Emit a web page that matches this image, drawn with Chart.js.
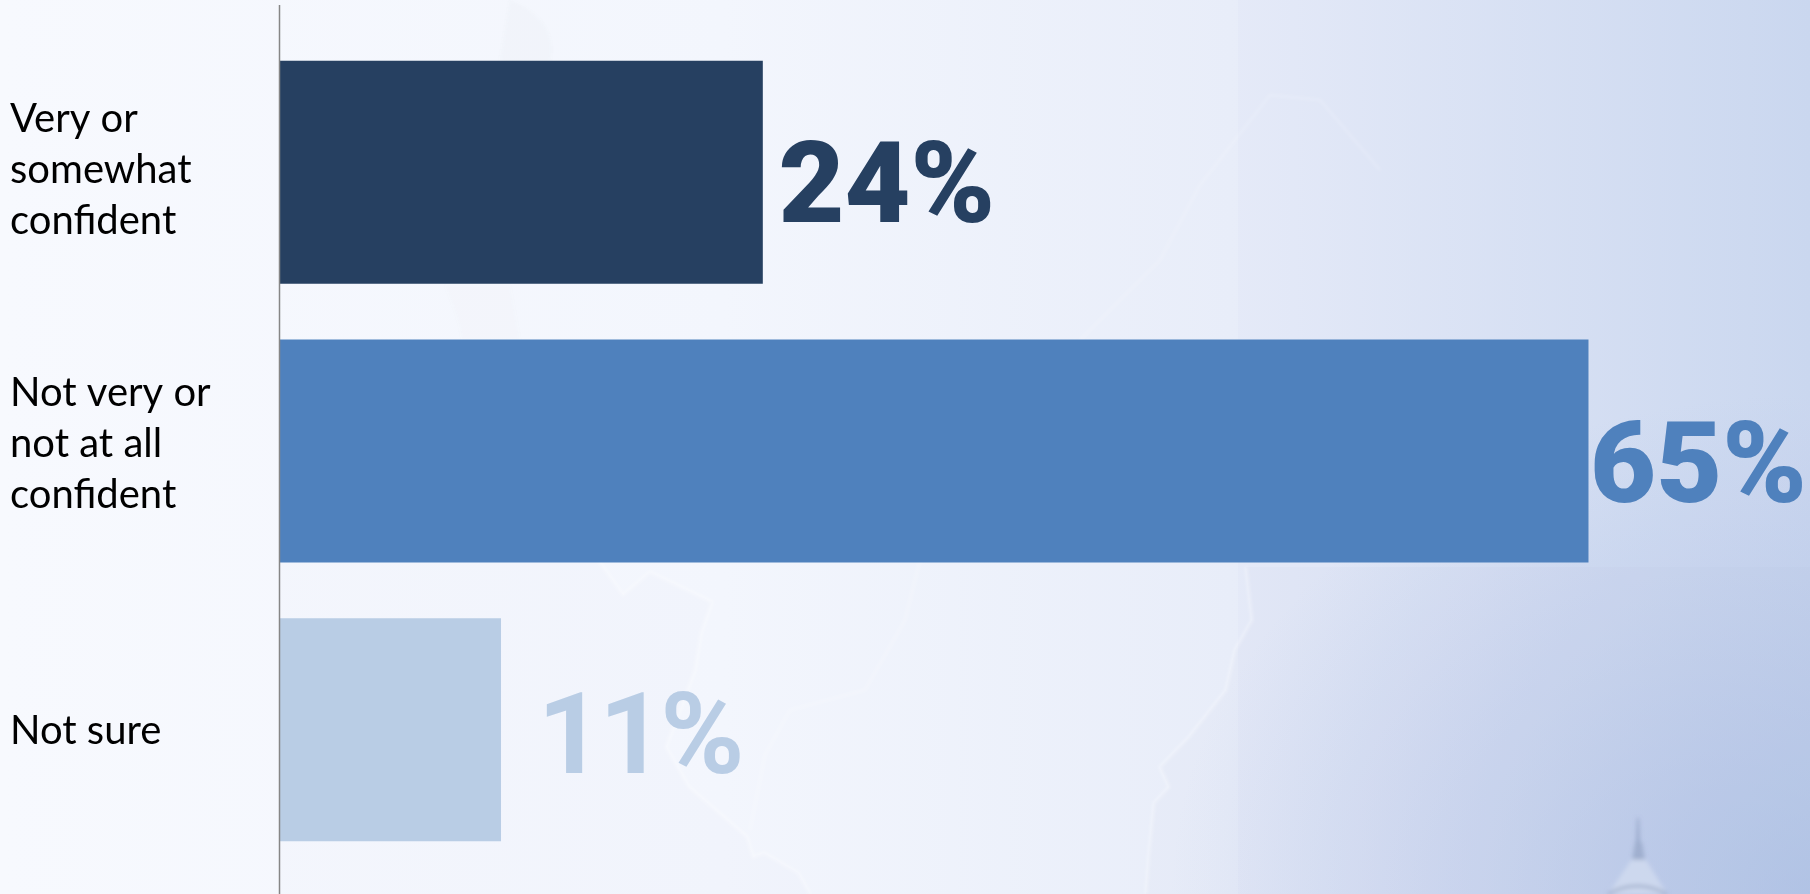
<!DOCTYPE html>
<html>
<head>
<meta charset="utf-8">
<style>
  html, body { margin: 0; padding: 0; width: 1810px; height: 894px; overflow: hidden; }
  body {
    background:
      radial-gradient(ellipse 640px 500px at 1810px 894px, rgba(165,186,226,0.6), rgba(165,186,226,0) 100%),
      linear-gradient(90deg, #f7f9fe 0%, #f3f6fd 40%, #e8edf9 68%, #cddaf0 100%);
  }
  #bg, #wrap { position: absolute; left: 0; top: 0; width: 1810px; height: 894px; }
</style>
</head>
<body>
<!-- faint map and dome behind the chart -->
<svg id="bg" viewBox="0 0 1810 894">
  <defs>
    <filter id="soft"><feGaussianBlur stdDeviation="1.5"/></filter>
    <filter id="softer"><feGaussianBlur stdDeviation="2"/></filter>
  </defs>
  <rect x="1238" y="0" width="572" height="894" fill="rgba(120,125,190,0.02)"/>
  <path d="M1246 567 L1252 620 1235 650 1226 690 1189 737 1160 767 1169 787 1154 803 1149 853 1146 894 L1810 894 1810 567 Z" fill="rgba(130,140,190,0.025)"/>
  <path d="M598 560 L623 595 650 572 712 602 701 633 695 670 666 747 689 787 747 837 753 857 764 853 798 873 810 894 L280 894 280 560 Z" fill="rgba(150,155,190,0.02)"/>
  <g fill="none" stroke="#fff" stroke-opacity="0.35" stroke-width="2.5" filter="url(#soft)">
    <path d="M1246 567 L1252 620 1235 650 1226 690 1189 737 1160 767 1169 787 1154 803 1149 853 1146 894"/>
    <path d="M598 560 L623 595 650 572 712 602 701 633 695 670 666 747 689 787 747 837 753 857 764 853 798 873 810 894"/>
    <path d="M920 560 L905 620 865 690 790 710 765 755 750 830" stroke-opacity="0.2"/>
    <path d="M1380 170 L1320 100 1270 95 1200 185 1160 260 1080 340" stroke-opacity="0.15"/>
  </g>
  <path d="M510 0 C 560 20, 560 60, 535 90 L 500 60 Z" fill="rgba(140,145,170,0.03)" filter="url(#soft)"/>
  <path d="M445 285 C 450 300, 458 315, 462 340 L 520 340 L 510 285 Z" fill="rgba(140,145,170,0.02)" filter="url(#soft)"/>
  <g filter="url(#softer)">
    <path d="M1637 818 L1639 818 1640 842 1636 842 Z" fill="rgba(105,122,160,0.4)"/>
    <path d="M1632 860 L1635 842 1642 842 1645 860 Z" fill="rgba(105,122,160,0.35)"/>
    <path d="M1608 894 C 1618 880, 1626 868, 1631 860 L1646 860 C 1652 870, 1660 882, 1667 894 Z" fill="#dbe3f2" fill-opacity="0.55"/>
    <path d="M1608 894 Q 1637 878 1667 894" fill="none" stroke="rgba(105,122,160,0.4)" stroke-width="3"/>
  </g>
</svg>
<div id="wrap"><canvas id="chart" width="1810" height="894"></canvas></div>
<script src="https://cdn.jsdelivr.net/npm/chart.js@4"></script>
<script>
const categories = [["Very or", "somewhat", "confident"], ["Not very or", "not at all", "confident"], ["Not sure"]];
const values = [24, 65, 11];
const barColors = ["#264061", "#4f81bd", "#b9cde5"];

// the original places these by hand, so they are set per bar
const valueStyle = [
  { x: 124, y: 49.5, weight: "900", spacing: "0px" },
  { x: 110, y: 50.5, weight: "900", spacing: "0px" },
  { x: 138, y: 43.5, weight: "700", spacing: "-4px" }
];
const labelBaseline = [-40.6, -45, 14.3];

const barText = {
  id: "barText",
  afterDatasetsDraw(chart) {
    const ctx = chart.ctx;
    const bars = chart.getDatasetMeta(0).data;
    ctx.save();
    ctx.textBaseline = "alphabetic";
    bars.forEach((bar, i) => {
      const s = valueStyle[i];
      ctx.textAlign = "center";
      ctx.font = `${s.weight} 114px Roboto`;
      ctx.letterSpacing = s.spacing;
      ctx.fillStyle = barColors[i];
      ctx.fillText(values[i] + "%", bar.x + s.x, bar.y + s.y);

      ctx.textAlign = "left";
      ctx.font = "40px Lato";
      ctx.letterSpacing = "0px";
      ctx.fillStyle = "#000";
      categories[i].forEach((line, n) => {
        ctx.fillText(line, 10, bar.y + labelBaseline[i] + n * 51);
      });
    });
    ctx.restore();
  }
};

// axis line runs past the category bands, top and bottom
const axisLine = {
  id: "axisLine",
  afterDraw(chart) {
    const ctx = chart.ctx;
    const x = chart.scales.x.getPixelForValue(0);
    ctx.save();
    ctx.strokeStyle = "#868686";
    ctx.lineWidth = 1.5;
    ctx.beginPath();
    ctx.moveTo(x, 5);
    ctx.lineTo(x, 894);
    ctx.stroke();
    ctx.restore();
  }
};

new Chart(document.getElementById("chart"), {
  type: "bar",
  data: {
    labels: categories,
    datasets: [{
      data: values,
      backgroundColor: barColors,
      categoryPercentage: 1,
      barPercentage: 0.8
    }]
  },
  options: {
    indexAxis: "y",
    responsive: false,
    animation: false,
    layout: { padding: { left: 279.5, top: 33, bottom: 25 } },
    plugins: { legend: { display: false }, tooltip: { enabled: false } },
    scales: {
      x: { display: false, min: 0, max: 76 },
      y: { display: false }
    }
  },
  plugins: [barText, axisLine]
});
</script>
</body>
</html>
